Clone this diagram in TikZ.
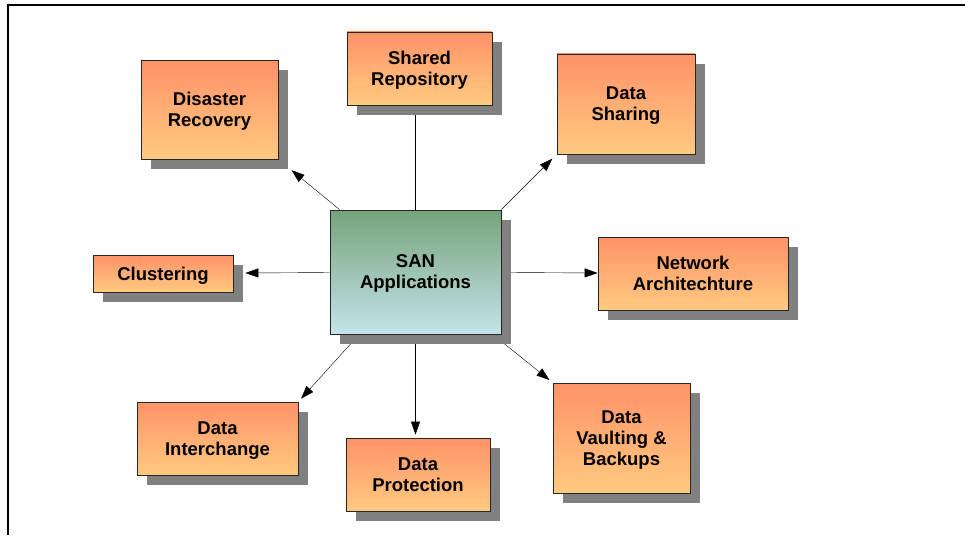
\documentclass[tikz,border=0pt]{standalone}
\usepackage{fontspec}
\setmainfont{Liberation Sans}
\usetikzlibrary{arrows.meta,shadows,backgrounds}
\definecolor{appTop}{RGB}{255,146,104}
\definecolor{appBot}{RGB}{255,202,128}
\definecolor{hubTop}{RGB}{118,163,122}
\definecolor{hubBot}{RGB}{196,228,234}

\begin{document}
\begin{tikzpicture}[x=1pt,y=-1pt,>={Triangle[length=13pt,width=9pt]},
	every node/.style={shape=rectangle,draw=black!85,line width=0.8pt,align=center,inner sep=0pt,
		text depth=0pt,font=\fontsize{18.5}{21}\selectfont\bfseries,
		drop shadow={shadow xshift=10pt,shadow yshift=-10pt,fill=black!50,opacity=1}},
	app/.style={top color=appTop,bottom color=appBot},
	hub/.style={top color=hubTop,bottom color=hubBot}]
	\useasboundingbox (0,0) rectangle (965,535);
	\draw[line width=2pt] (8,535) -- (8,5) -- (965,5);

	% create the nodes
	\node[hub,minimum width=171pt,minimum height=124pt] (san) at (415.5,272) {SAN\\Applications};
	\node[app,minimum width=145pt,minimum height=73pt] (sr) at (419.5,68.5) {Shared\\Repository};
	\node[app,minimum width=137pt,minimum height=99pt] (dr) at (209.5,109.5) {Disaster\\Recovery};
	\node[app,minimum width=138pt,minimum height=100pt] (ds) at (626,104) {Data\\Sharing};
	\node[app,minimum width=140pt,minimum height=37pt] (cl) at (163,273.5) {Clustering};
	\node[app,minimum width=190pt,minimum height=73pt] (na) at (693,273.5) {Network\\Architechture};
	\node[app,minimum width=161pt,minimum height=73pt] (di) at (217.5,438.5) {Data\\Interchange};
	\node[app,minimum width=144pt,minimum height=73pt] (dp) at (418,474.5) {Data\\Protection};
	\node[app,minimum width=137pt,minimum height=110pt] (dv) at (621.5,438) {Data\\Vaulting \&\\Backups};

	% connect the nodes
	\begin{scope}[on background layer,line width=0.8pt]
	\draw (san) to (san |- sr.south);
	\draw[->,shorten >=17pt] (san) to (dr.south east);
	\draw[->,shorten >=6pt] (san.north east) to (ds.south west);
	\draw[->,shorten >=12pt] (san) to (cl);
	\draw[->] (san) to (na);
	\draw[->,shorten >=4pt] (san) to (di.north east);
	\draw[->,shorten >=3pt] (san) to (san |- dp.north);
	\draw[->,shorten >=4pt] (san) to (dv.north west);
	\end{scope}
\end{tikzpicture}
\end{document}
